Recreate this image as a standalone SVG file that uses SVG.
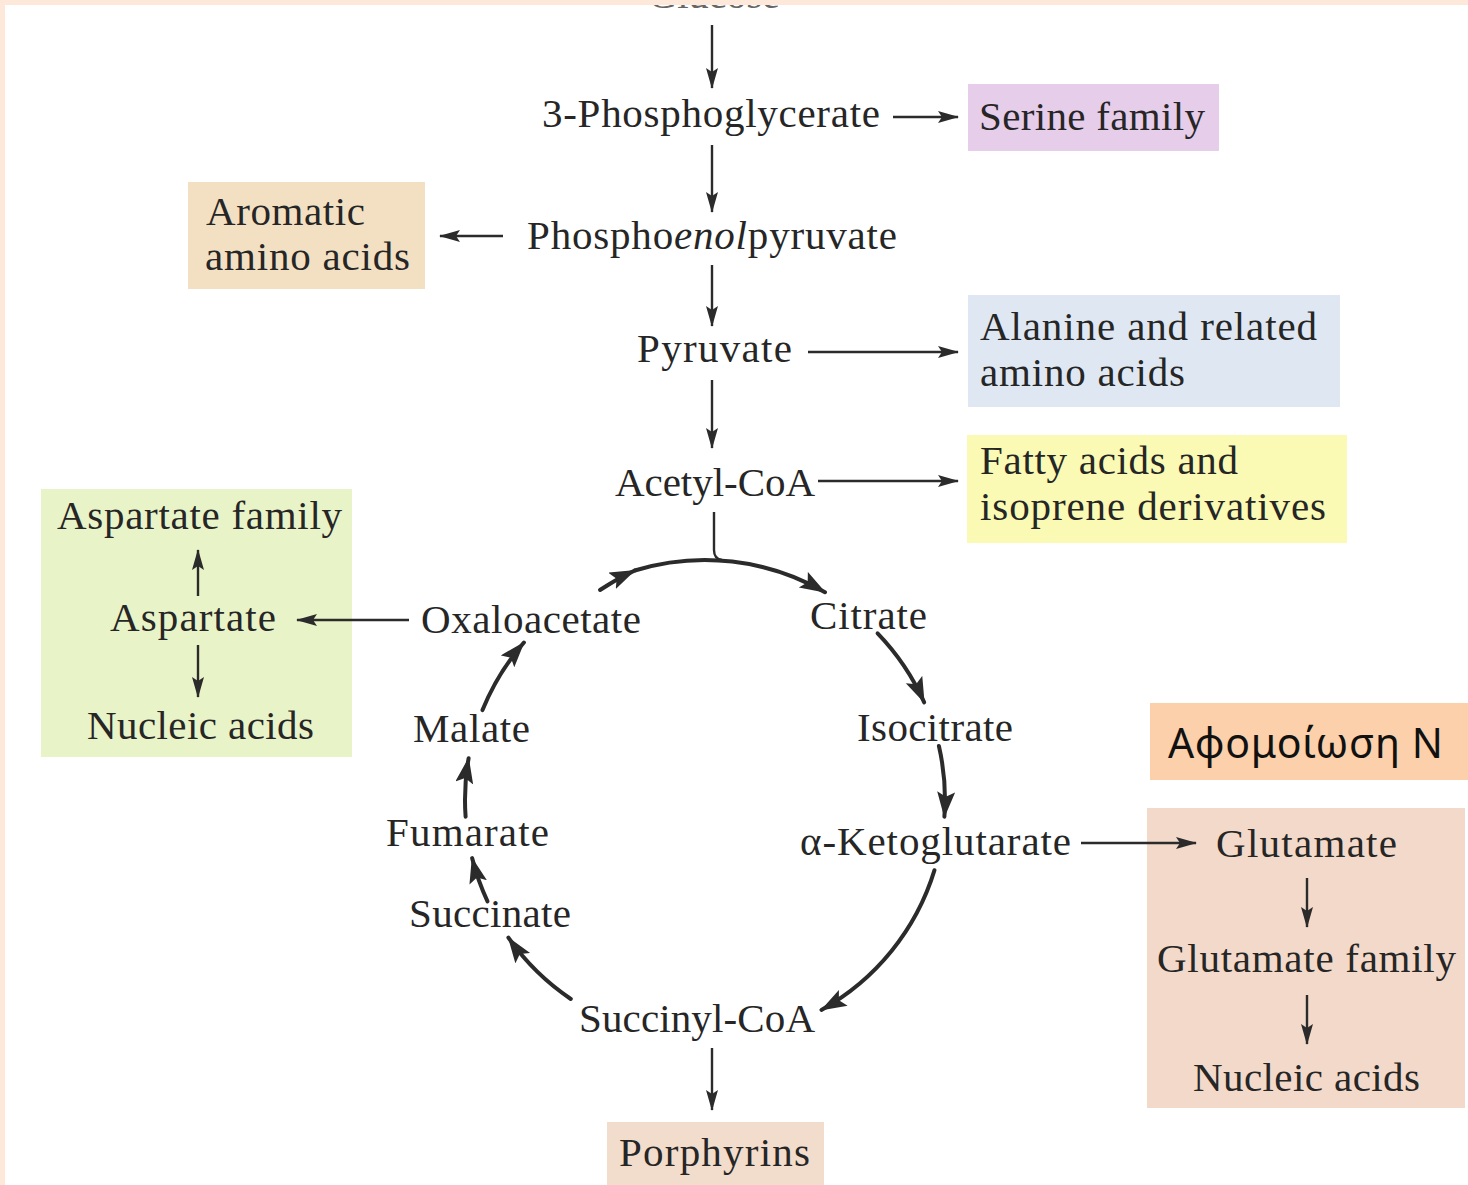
<svg xmlns="http://www.w3.org/2000/svg" width="1468" height="1185" viewBox="0 0 1468 1185">
  <defs>
    <style>
      .lbl { font-family: "Liberation Serif", "Times New Roman", serif; font-size: 41px; fill: #262626; }
      .greek { font-family: "Noto Sans", "Open Sans", sans-serif; font-size: 41px; fill: #111; }
      .line { stroke: #2b2b2b; stroke-width: 2.4; fill: none; }
      .cyc { stroke: #2b2b2b; stroke-width: 4; fill: none; stroke-linecap: round; }
      .arr { marker-end: url(#head); }
      .carr { marker-end: url(#chead); }
    </style>
    <marker id="head" markerUnits="userSpaceOnUse" markerWidth="24" markerHeight="14" refX="20" refY="6" orient="auto">
      <path d="M0,0 L21,6 L0,12 L4,6 z" fill="#2b2b2b"/>
    </marker>
    <marker id="chead" markerUnits="userSpaceOnUse" markerWidth="30" markerHeight="20" refX="25" refY="9" orient="auto">
      <path d="M0,0 L26,9 L0,18 L5,9 z" fill="#2b2b2b"/>
    </marker>
  </defs>

  <rect x="0" y="0" width="1468" height="1185" fill="#ffffff"/>

  <!-- starting metabolite, running off the top edge -->
  <text class="lbl" x="648" y="8" textLength="132" style="fill:#666">Glucose</text>

  <!-- page border -->
  <rect x="0" y="0" width="1468" height="5" fill="#fde8d9"/>
  <rect x="0" y="0" width="5" height="1185" fill="#fde8d9"/>

  <!-- pathway intermediates -->
  <g id="n-3pg"><text class="lbl" x="542" y="127" textLength="338">3-Phosphoglycerate</text></g>
  <g id="n-pep"><text class="lbl" x="527" y="249" textLength="370">Phospho<tspan font-style="italic">enol</tspan>pyruvate</text></g>
  <g id="n-pyruvate"><text class="lbl" x="637" y="362" textLength="155">Pyruvate</text></g>
  <g id="n-acetylcoa"><text class="lbl" x="615" y="496" textLength="200">Acetyl-CoA</text></g>
  <g id="n-oxaloacetate"><text class="lbl" x="421" y="633" textLength="220">Oxaloacetate</text></g>
  <g id="n-citrate"><text class="lbl" x="810" y="629" textLength="117">Citrate</text></g>
  <g id="n-isocitrate"><text class="lbl" x="857" y="741" textLength="156">Isocitrate</text></g>
  <g id="n-akg"><text class="lbl" x="800" y="855" textLength="271">α-Ketoglutarate</text></g>
  <g id="n-succinylcoa"><text class="lbl" x="579" y="1032" textLength="236">Succinyl-CoA</text></g>
  <g id="n-succinate"><text class="lbl" x="409" y="927" textLength="162">Succinate</text></g>
  <g id="n-fumarate"><text class="lbl" x="386" y="846" textLength="163">Fumarate</text></g>
  <g id="n-malate"><text class="lbl" x="413" y="742" textLength="117">Malate</text></g>

  <!-- product boxes -->
  <g id="n-serine">
    <rect x="968" y="84" width="251" height="67" fill="#e6cdea"/>
    <text class="lbl" x="979" y="130" textLength="226">Serine family</text>
  </g>
  <g id="n-aromatic">
    <rect x="188" y="182" width="237" height="107" fill="#f3e0c2"/>
    <text class="lbl" x="206" y="225" textLength="159">Aromatic</text>
    <text class="lbl" x="205" y="270" textLength="205">amino acids</text>
  </g>
  <g id="n-alanine">
    <rect x="968" y="295" width="372" height="112" fill="#dfe8f2"/>
    <text class="lbl" x="980" y="340" textLength="337">Alanine and related</text>
    <text class="lbl" x="980" y="386" textLength="205">amino acids</text>
  </g>
  <g id="n-fatty">
    <rect x="967" y="435" width="380" height="108" fill="#fafab4"/>
    <text class="lbl" x="980" y="474" textLength="258">Fatty acids and</text>
    <text class="lbl" x="980" y="520" textLength="346">isoprene derivatives</text>
  </g>
  <g id="n-aspartate">
    <rect x="41" y="489" width="311" height="268" fill="#e9f3c8"/>
    <text class="lbl" x="57" y="529" textLength="285">Aspartate family</text>
    <text class="lbl" x="110" y="631" textLength="166">Aspartate</text>
    <text class="lbl" x="87" y="739" textLength="227">Nucleic acids</text>
  </g>
  <g id="n-nassim">
    <rect x="1150" y="703" width="318" height="77" fill="#fbd0aa"/>
    <text class="greek" x="1168" y="758" textLength="275">Αφομοίωση Ν</text>
  </g>
  <g id="n-glutamate">
    <rect x="1147" y="808" width="318" height="300" fill="#f2d9c9"/>
    <text class="lbl" x="1216" y="857" textLength="181">Glutamate</text>
    <text class="lbl" x="1157" y="972" textLength="299">Glutamate family</text>
    <text class="lbl" x="1193" y="1091" textLength="227">Nucleic acids</text>
  </g>
  <g id="n-porphyrins">
    <rect x="607" y="1122" width="217" height="63" fill="#f2dccb"/>
    <text class="lbl" x="619" y="1166" textLength="191">Porphyrins</text>
  </g>

  <!-- connectors, drawn over the boxes -->
  <g id="connectors">
    <line class="line arr" x1="712" y1="25" x2="712" y2="88"/>
    <line class="line arr" x1="893" y1="117" x2="958" y2="117"/>
    <line class="line arr" x1="712" y1="145" x2="712" y2="212"/>
    <line class="line arr" x1="503" y1="236" x2="440" y2="236"/>
    <line class="line arr" x1="712" y1="265" x2="712" y2="326"/>
    <line class="line arr" x1="808" y1="352" x2="958" y2="352"/>
    <line class="line arr" x1="712" y1="380" x2="712" y2="448"/>
    <line class="line arr" x1="818" y1="481" x2="958" y2="481"/>
    <path class="line" d="M714,512 L714,550 Q714,559 722,560"/>
    <line class="line arr" x1="409" y1="620" x2="297" y2="620"/>
    <line class="line arr" x1="198" y1="596" x2="198" y2="550"/>
    <line class="line arr" x1="198" y1="645" x2="198" y2="697"/>
    <line class="line arr" x1="1081" y1="843" x2="1196" y2="843"/>
    <line class="line arr" x1="1307" y1="878" x2="1307" y2="927"/>
    <line class="line arr" x1="1307" y1="995" x2="1307" y2="1044"/>
    <line class="line arr" x1="712" y1="1048" x2="712" y2="1110"/>

    <!-- citric acid cycle arcs (centre 705,800, r 240) -->
    <path class="cyc carr" d="M600,590 A240,240 0 0 1 634.8,570.5"/>
    <path class="cyc carr" d="M634.8,570.5 A240,240 0 0 1 825,592.2"/>
    <path class="cyc carr" d="M877.6,633.3 A240,240 0 0 1 924.2,702.4"/>
    <path class="cyc carr" d="M938.9,746 A240,240 0 0 1 944.4,816.7"/>
    <path class="cyc carr" d="M934.5,870.2 A240,240 0 0 1 821.4,1009.9"/>
    <path class="cyc carr" d="M570.8,999 A240,240 0 0 1 508.4,937.7"/>
    <path class="cyc carr" d="M487.5,901.4 A240,240 0 0 1 472.1,858.1"/>
    <path class="cyc carr" d="M465.6,816.7 A240,240 0 0 1 468.6,758.3"/>
    <path class="cyc carr" d="M482.5,710.1 A240,240 0 0 1 523.9,642.5"/>
  </g>
</svg>
